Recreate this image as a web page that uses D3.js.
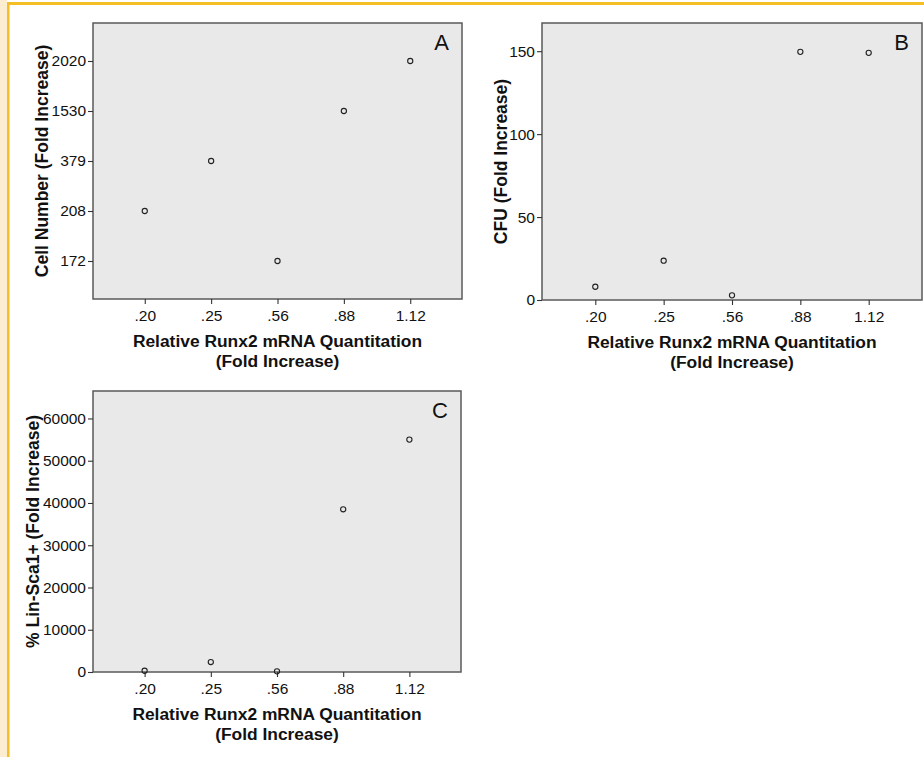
<!DOCTYPE html>
<html>
<head>
<meta charset="utf-8">
<script src="https://cdn.jsdelivr.net/npm/d3@7"></script>
<style>
  html, body { margin: 0; padding: 0; background: #fff; }
  svg { display: block; font-family: "Liberation Sans", Arial, sans-serif; }
  .tick text { font-family: "Liberation Sans", Arial, sans-serif; font-size: 15.5px; }
</style>
</head>
<body>
<svg id="chart" width="924" height="757"></svg>
<script>
// ---- data ----
const runx2Categories = [".20", ".25", ".56", ".88", "1.12"];

const cellNumberTicks = ["172", "208", "379", "1530", "2020"];   // ordinal axis, bottom -> top
const cellNumberValues = ["208", "379", "172", "1530", "2020"];

const cfuTicks = [0, 50, 100, 150];
const cfuValues = [8, 23.7, 2.8, 149.6, 149];

const linScaTicks = [0, 10000, 20000, 30000, 40000, 50000, 60000];
const linScaValues = [300, 2350, 150, 38500, 55000];

const xTitleLine1 = "Relative Runx2 mRNA Quantitation";
const xTitleLine2 = "(Fold Increase)";

// ---- drawing ----
const FONT = '"Liberation Sans", Arial, sans-serif';
const svg = d3.select("#chart");

// page decoration (journal frame)
svg.append("rect").attr("x", 0).attr("y", 0).attr("width", 924).attr("height", 757).attr("fill", "#ffffff");
svg.append("rect").attr("x", 0).attr("y", 0).attr("width", 7).attr("height", 757).attr("fill", "#fcedd1");
svg.append("rect").attr("x", 7).attr("y", 2).attr("width", 2.5).attr("height", 755).attr("fill", "#f4be27");
svg.append("rect").attr("x", 7).attr("y", 2).attr("width", 917).attr("height", 3).attr("fill", "#f4be27");

function panel(cfg) {
  const g = svg.append("g");
  const { x0, x1, y0, y1 } = cfg;

  g.append("rect")
    .attr("x", x0).attr("y", y0)
    .attr("width", x1 - x0).attr("height", y1 - y0)
    .attr("fill", "#e9e9e9")
    .attr("stroke", "#5a5a5a")
    .attr("stroke-width", 1.5);

  const x = d3.scalePoint().domain(runx2Categories).range([x0, x1]).padding(0.78);

  const xAxis = g.append("g")
    .attr("transform", `translate(0,${y1})`)
    .call(d3.axisBottom(x).tickSize(5).tickSizeOuter(0).tickPadding(6));
  xAxis.select(".domain").remove();

  const yAxis = g.append("g")
    .attr("transform", `translate(${x0},0)`)
    .call(cfg.yAxis);
  yAxis.select(".domain").remove();

  [xAxis, yAxis].forEach(a => {
    a.attr("font-family", FONT).attr("font-size", 15.5);
    a.selectAll(".tick line").attr("stroke", "#333").attr("stroke-width", 1.1);
    a.selectAll(".tick text").attr("fill", "#111").style("font-size", "15.5px");
  });

  // points
  g.selectAll("circle.pt")
    .data(cfg.values)
    .join("circle")
    .attr("class", "pt")
    .attr("cx", (d, i) => x(runx2Categories[i]))
    .attr("cy", d => cfg.y(d))
    .attr("r", 2.6)
    .attr("fill", "none")
    .attr("stroke", "#222")
    .attr("stroke-width", 1.1);

  // panel letter
  g.append("text")
    .attr("x", x1 - 13).attr("y", y0 + 27)
    .attr("text-anchor", "end")
    .style("font-size", "22px")
    .attr("fill", "#111")
    .text(cfg.letter);

  // x title
  const cx = (x0 + x1) / 2;
  g.append("text")
    .attr("x", cx).attr("y", y1 + 48)
    .attr("text-anchor", "middle")
    .style("font-size", "17.4px").style("font-weight", "bold")
    .attr("fill", "#111")
    .text(xTitleLine1);
  g.append("text")
    .attr("x", cx).attr("y", y1 + 67.5)
    .attr("text-anchor", "middle")
    .style("font-size", "17.4px").style("font-weight", "bold")
    .attr("fill", "#111")
    .text(xTitleLine2);

  // y title
  const cy = (y0 + y1) / 2;
  g.append("text")
    .attr("transform", `translate(${cfg.yTitleX},${cy}) rotate(-90)`)
    .attr("text-anchor", "middle")
    .style("font-size", "17.5px").style("font-weight", "bold")
    .attr("fill", "#111")
    .text(cfg.yTitle);
}

// Panel A
{
  const y = d3.scalePoint().domain(cellNumberTicks).range([299, 23]).padding(0.76);
  panel({
    x0: 93, x1: 462, y0: 23, y1: 299,
    y: y,
    yAxis: d3.axisLeft(y).tickSize(5).tickSizeOuter(0).tickPadding(2),
    values: cellNumberValues,
    letter: "A",
    yTitle: "Cell Number (Fold Increase)",
    yTitleX: 47.5
  });
}

// Panel B
{
  const y = d3.scaleLinear().domain([0, 167]).range([300, 23]);
  panel({
    x0: 542, x1: 922, y0: 23, y1: 300,
    y: y,
    yAxis: d3.axisLeft(y).tickValues(cfuTicks).tickFormat(d3.format("d")).tickSize(5).tickSizeOuter(0).tickPadding(2),
    values: cfuValues,
    letter: "B",
    yTitle: "CFU (Fold Increase)",
    yTitleX: 506.5
  });
}

// Panel C
{
  const y = d3.scaleLinear().domain([0, 66500]).range([672, 391]);
  panel({
    x0: 93, x1: 461, y0: 391, y1: 672,
    y: y,
    yAxis: d3.axisLeft(y).tickValues(linScaTicks).tickFormat(d3.format("d")).tickSize(5).tickSizeOuter(0).tickPadding(2),
    values: linScaValues,
    letter: "C",
    yTitle: "% Lin-Sca1+ (Fold Increase)",
    yTitleX: 38.5
  });
}
</script>
</body>
</html>
